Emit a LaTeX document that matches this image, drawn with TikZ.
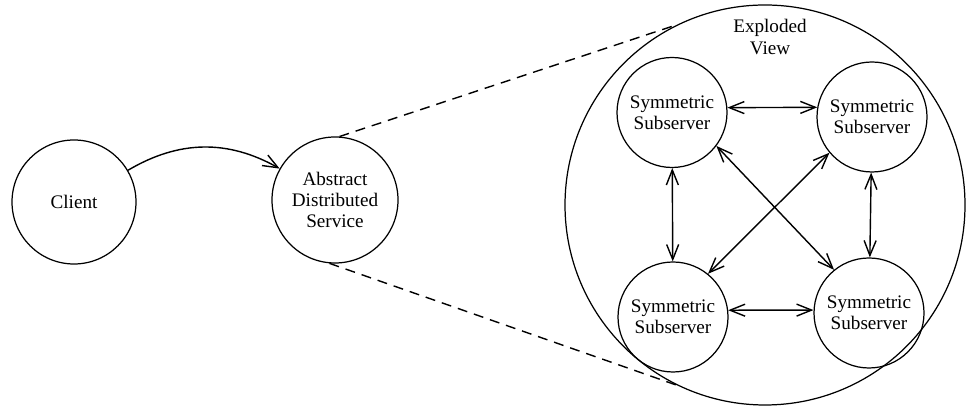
\documentclass[tikz,border=0pt]{standalone}
\usepackage{fontspec}
\setmainfont{Liberation Serif}
\usetikzlibrary{arrows.meta}

\begin{document}
\begin{tikzpicture}[>={Straight Barb[length=3mm,width=2.4mm]},
    tron/.style={draw, circle, line width=0.7pt, align=center, inner sep=0pt,
        font=\fontsize{10.9}{12.2}\selectfont},
    noi/.style={<->, line width=0.8pt}]
    \useasboundingbox (0,0) rectangle (19.32,8.12);
    % Vẽ các vòng tròn
    \node[tron, minimum size=2.48cm] (client) at (1.48,4.08) {Client};
    \node[tron, minimum size=2.52cm] (service) at (6.70,4.12) {Abstract\\Distributed\\Service};
    \node[tron, minimum size=8cm] (view) at (15.30,4.02) {};
    \node[align=center, font=\fontsize{10.9}{12.2}\selectfont] (title) at (15.40,7.38) {Exploded\\View};
    \foreach \p/\n in {{13.44,5.87}/s1, {17.44,5.78}/s2, {13.46,1.78}/s3, {17.38,1.86}/s4} {
        \node[tron, minimum size=2.2cm] (\n) at (\p) {Symmetric\\Subserver};
    }
    % Mũi tên
    \draw[->, line width=0.8pt] (client) to[bend left=30] (service);
    \foreach \a/\b in {s1.5/s2.170, s3.7/s4.177, s1/s3, s2/s4, s1.323/s4.129, s2.220/s3.51} {
        \draw[noi] (\a) -- (\b);
    }
    % Đường nét đứt
    \draw[dash pattern=on 0.2cm off 0.14cm, line width=0.8pt] (service.86) -- (view.116);
    \draw[dash pattern=on 0.2cm off 0.14cm, line width=0.8pt] (service.265) -- (view.244);
\end{tikzpicture}
\end{document}
